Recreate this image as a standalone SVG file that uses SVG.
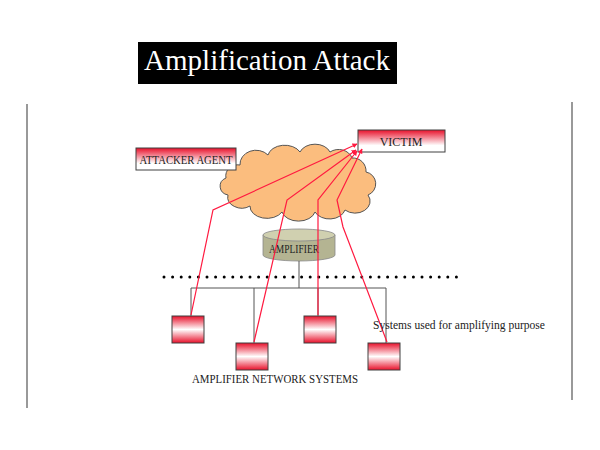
<svg xmlns="http://www.w3.org/2000/svg" width="600" height="450" viewBox="0 0 600 450">
<defs>
<linearGradient id="gTop" x1="0" y1="0" x2="0" y2="1">
<stop offset="0" stop-color="#E8102A"/>
<stop offset="0.7" stop-color="#FFFFFF"/>
<stop offset="1" stop-color="#FFFFFF"/>
</linearGradient>
<linearGradient id="gMid" x1="0" y1="0" x2="0" y2="1">
<stop offset="0" stop-color="#E8102A"/>
<stop offset="0.5" stop-color="#FFFFFF"/>
<stop offset="1" stop-color="#E8102A"/>
</linearGradient>
<marker id="arr" viewBox="0 0 10 10" refX="9" refY="5" markerWidth="5" markerHeight="5" orient="auto" markerUnits="userSpaceOnUse">
<path d="M0,0 L10,5 L0,10 z" fill="#FF1A40"/>
</marker>
<style>
.lbl{font-family:"Liberation Serif","DejaVu Serif",serif;fill:#222;font-size:12px}
.box{stroke:#404040;stroke-width:1}
.wire{stroke:#555;stroke-width:1;fill:none}
.red{stroke:#FF1A40;stroke-width:1.2;fill:none}
</style>
</defs>
<rect width="600" height="450" fill="#fff"/>
<line x1="27" y1="104" x2="27" y2="408" stroke="#555" stroke-width="1.2"/>
<line x1="572" y1="102" x2="572" y2="400" stroke="#555" stroke-width="1.2"/>
<g id="title">
<rect x="138" y="42" width="259" height="42" fill="#000"/>
<text x="267" y="70" text-anchor="middle" font-family="Liberation Serif, DejaVu Serif, serif" font-size="29" fill="#fff" textLength="246">Amplification Attack</text>
</g>
<g id="cloud">
<path d="M240,165 A16,14 0 0 1 268,155 A17,12 0 0 1 300,152 A16,12 0 0 1 330,152 A14,12 0 0 1 352,158 A13,13 0 0 1 366,172 A12,12 0 0 1 368,195 A15,12 0 0 1 345,210 A16,12 0 0 1 315,212 A17,12 0 0 1 282,212 A17,12 0 0 1 250,206 A14,11 0 0 1 228,195 A10,9 0 0 1 226,178 A12,11 0 0 1 240,165 Z" fill="#FBBD7E" stroke="#555" stroke-width="1"/>
</g>
<g id="victim">
<rect class="box" x="358" y="130" width="87" height="22" fill="url(#gTop)"/>
<text class="lbl" x="401" y="146" text-anchor="middle">VICTIM</text>
</g>
<g id="attacker">
<rect class="box" x="136" y="148" width="100" height="22" fill="url(#gTop)"/>
<text class="lbl" x="186" y="164" text-anchor="middle" textLength="93" lengthAdjust="spacingAndGlyphs">ATTACKER AGENT</text>
</g>
<g id="amplifier">
<path d="M263,235 L263,255 A36,6 0 0 0 335,255 L335,235 Z" fill="#B4B492" stroke="#888" stroke-width="0.8"/>
<ellipse cx="299" cy="235" rx="36" ry="6" fill="#D0D0B0" stroke="#888" stroke-width="0.8"/>
<text class="lbl" x="294" y="253" text-anchor="middle" font-size="10" textLength="50" lengthAdjust="spacingAndGlyphs">AMPLIFIER</text>
</g>
<g id="divider">
<line x1="164" y1="277" x2="458" y2="277" stroke="#000" stroke-width="3" stroke-linecap="round" stroke-dasharray="0 8.6"/>
</g>
<g id="connectors">
<line class="wire" x1="299" y1="261" x2="299" y2="288"/>
<polyline class="wire" points="191,316 191,288 386,288 386,343"/>
<line class="wire" x1="254" y1="288" x2="254" y2="343"/>
<line class="wire" x1="318" y1="288" x2="318" y2="316"/>
<polyline class="red" points="191,315 213,210 357,144" marker-end="url(#arr)"/>
<polyline class="red" points="254,342 287,200 356,150" marker-end="url(#arr)"/>
<polyline class="red" points="318,315 318,200 357,151" marker-end="url(#arr)"/>
<polyline class="red" points="387,342 343,227 337,200 362,149" marker-end="url(#arr)"/>
</g>
<g id="sys1"><rect class="box" x="172" y="316" width="32" height="27" fill="url(#gMid)"/></g>
<g id="sys2"><rect class="box" x="236" y="343" width="32" height="27" fill="url(#gMid)"/></g>
<g id="sys3"><rect class="box" x="304" y="316" width="32" height="27" fill="url(#gMid)"/></g>
<g id="sys4"><rect class="box" x="368" y="343" width="32" height="27" fill="url(#gMid)"/></g>
<text class="lbl" x="192" y="383" textLength="166" lengthAdjust="spacingAndGlyphs">AMPLIFIER NETWORK SYSTEMS</text>
<text class="lbl" x="373" y="329" textLength="172" lengthAdjust="spacingAndGlyphs">Systems used for amplifying purpose</text>
</svg>
